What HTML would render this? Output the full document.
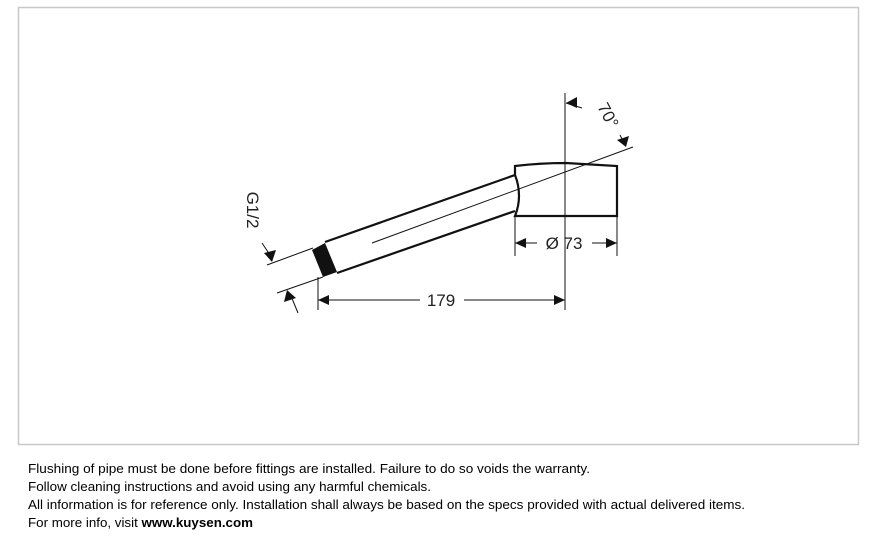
<!DOCTYPE html>
<html><head><meta charset="utf-8"><style>
html,body{margin:0;padding:0;background:#fff;}
svg{display:block;}
</style></head><body>
<svg width="874" height="536" viewBox="0 0 874 536" xmlns="http://www.w3.org/2000/svg" font-family="Liberation Sans, sans-serif">
<rect x="18.5" y="7.5" width="840" height="437" fill="#fff" stroke="#c8c8c8" stroke-width="1.5"/>
<g stroke="#111" fill="none">
 <!-- head -->
 <path d="M515,166 Q540,163 566,163 L617,166 L617,216 L515,216 Q519,206 519,196 Q519,185 515,175 Z" stroke-width="2.2"/>
 <!-- pipe -->
 <line x1="325" y1="242" x2="515" y2="175" stroke-width="2.2"/>
 <line x1="337" y1="273" x2="515" y2="211" stroke-width="2.2"/>
 <!-- center line -->
 <line x1="372" y1="243" x2="633" y2="147" stroke-width="1"/>
 <!-- vertical axis -->
 <line x1="565" y1="93" x2="565" y2="310" stroke-width="1"/>
 <!-- ext lines -->
 <line x1="267" y1="265" x2="313" y2="248" stroke-width="1"/>
 <line x1="277" y1="293" x2="323" y2="277" stroke-width="1"/>
 <line x1="318" y1="277" x2="318" y2="310" stroke-width="1"/>
 <line x1="515" y1="216" x2="515" y2="256" stroke-width="1"/>
 <line x1="617" y1="216" x2="617" y2="256" stroke-width="1"/>
 <!-- 179 dim -->
 <line x1="318" y1="300" x2="420" y2="300" stroke-width="1"/>
 <line x1="464" y1="300" x2="565" y2="300" stroke-width="1"/>
 <!-- 73 dim -->
 <line x1="515" y1="243" x2="537" y2="243" stroke-width="1"/>
 <line x1="592" y1="243" x2="617" y2="243" stroke-width="1"/>
 <!-- G1/2 leader -->
 <line x1="262" y1="243" x2="272" y2="258" stroke-width="1"/>
 <line x1="291" y1="296" x2="298" y2="313" stroke-width="1"/>
 <!-- 70 leaders -->
 <line x1="566" y1="103" x2="582" y2="108" stroke-width="1"/>
 <line x1="620" y1="135" x2="625" y2="145" stroke-width="1"/>
</g>
<!-- collar -->
<polygon points="312,250 325,243 337,272 323,277" fill="#111"/>
<g fill="#111">
 <polygon points="318,300 329,295 329,305"/>
 <polygon points="565,300 554,295 554,305"/>
 <polygon points="515,243 526,238 526,248"/>
 <polygon points="617,243 606,238 606,248"/>
 <polygon points="272,262 264,253 276,250"/>
 <polygon points="287,290 284,302 296,298"/>
 <polygon points="566,103 577,97 577,108"/>
 <polygon points="626,147 617,140 629,136"/>
</g>
<g fill="#222" font-size="17">
 <text x="441" y="306" text-anchor="middle">179</text>
 <text x="564" y="249" text-anchor="middle">Ø 73</text>
 <text transform="translate(247,210) rotate(90)" text-anchor="middle">G1/2</text>
 <text transform="translate(603,118) rotate(62)" text-anchor="middle">70°</text>
</g>
<g font-size="13" fill="#000">
 <text x="28" y="473" textLength="562" lengthAdjust="spacingAndGlyphs">Flushing of pipe must be done before fittings are installed. Failure to do so voids the warranty.</text>
 <text x="28" y="491" textLength="403" lengthAdjust="spacingAndGlyphs">Follow cleaning instructions and avoid using any harmful chemicals.</text>
 <text x="28" y="509" textLength="717" lengthAdjust="spacingAndGlyphs">All information is for reference only. Installation shall always be based on the specs provided with actual delivered items.</text>
 <text x="28" y="527" textLength="225" lengthAdjust="spacingAndGlyphs">For more info, visit <tspan font-weight="bold">www.kuysen.com</tspan></text>
</g>
</svg>
</body></html>
